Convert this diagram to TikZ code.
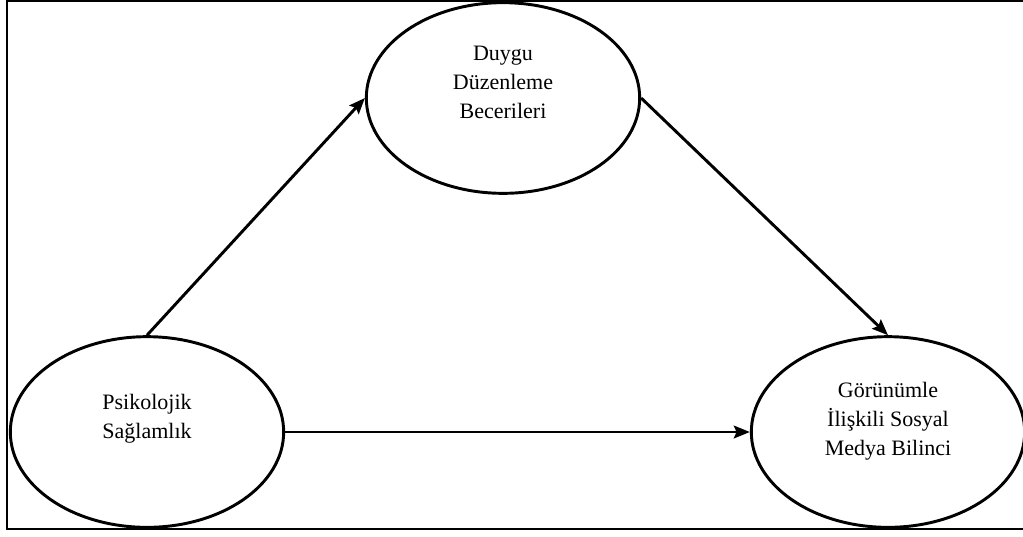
\documentclass[tikz,border=0pt]{standalone}
\usepackage{fontspec}
\setmainfont{Liberation Serif}
\usetikzlibrary{positioning,shapes.geometric,arrows.meta}

% text block raised inside its ellipse, box of zero size
\newcommand{\liftedtext}[2]{\raisebox{#1}[0pt][0pt]{\begin{tabular}{@{}c@{}}#2\end{tabular}}}

\tikzset{
  var/.style={draw, ellipse, line width=2.2pt, minimum width=205pt, minimum height=143pt,
    font=\fontsize{16.5}{21.75}\selectfont},
  path/.style={line width=2.2pt, -{Stealth[length=12pt,width=9.5pt,inset=2pt]}}
}

\begin{document}
\begin{tikzpicture}[x=0.75pt, y=-0.75pt]
      \useasboundingbox (0,0) rectangle (1023,536);
      \draw[line width=1.6pt] (1023,1) -- (7,1) -- (7,529) -- (1023,529);
      \node[var] (emotion) at (503,98) {\liftedtext{6.5pt}{Duygu\\Düzenleme\\Becerileri}};
      \node[var] (resilience) at (147,432) {\liftedtext{6pt}{Psikolojik\\Sağlamlık}};
      \node[var] (awareness) at (888,432) {\liftedtext{4pt}{Görünümle\\İlişkili Sosyal\\Medya Bilinci}};
      \draw[path] (resilience.north) -- (emotion.west);
      \draw[path] (emotion.east) -- (awareness.north);
      \draw[path] (resilience.east) -- (awareness.west);
    \end{tikzpicture}
\end{document}
